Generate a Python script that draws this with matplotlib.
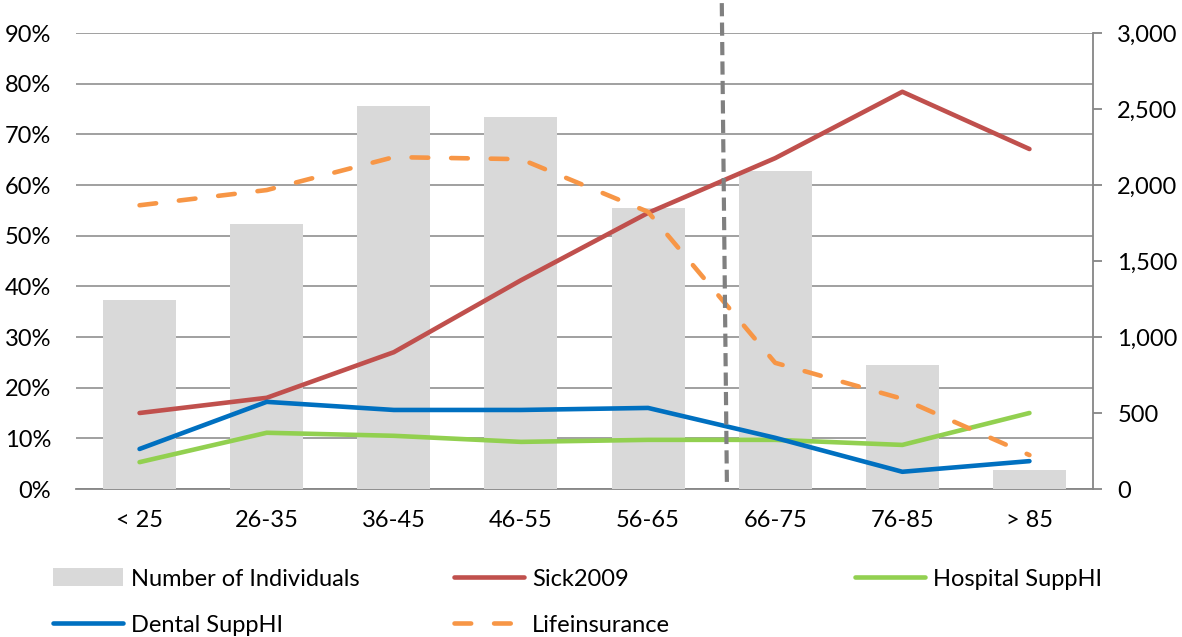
import matplotlib
matplotlib.use("Agg")
import matplotlib.pyplot as plt
from matplotlib.ticker import MultipleLocator, FuncFormatter, PercentFormatter
import numpy as np

plt.rcParams['font.family'] = ['Lato', 'DejaVu Sans']
plt.rcParams['lines.scale_dashes'] = False

categories = ["< 25", "26-35", "36-45", "46-55", "56-65", "66-75", "76-85", "> 85"]
individuals = [1245, 1745, 2520, 2450, 1850, 2090, 815, 125]
sick2009 = [0.150, 0.180, 0.270, 0.412, 0.545, 0.653, 0.784, 0.671]
dental = [0.079, 0.172, 0.156, 0.156, 0.160, 0.101, 0.034, 0.055]
hospital = [0.053, 0.111, 0.105, 0.093, 0.097, 0.097, 0.087, 0.150]
lifeins = [0.560, 0.590, 0.655, 0.651, 0.547, 0.249, 0.178, 0.067]
divider_x = [4.58, 4.62]
divider_y = [0.959, 0.014]

W, H = 1182, 637
FS = 17
fig = plt.figure(figsize=(W / 100, H / 100), dpi=100)
rect = [76 / W, 1 - 489 / H, (1093 - 76) / W, (489 - 33) / H]

grid_c = "#868686"
x = np.arange(len(categories))

ax = fig.add_axes(rect)
ax.set_xlim(-0.5, len(categories) - 0.5)
ax.set_ylim(0, 0.9)
ax.yaxis.set_major_locator(MultipleLocator(0.1))
ax.yaxis.set_major_formatter(PercentFormatter(1.0, decimals=0))
ax.grid(axis='y', color=grid_c, linewidth=1.1)
ax.set_axisbelow(True)
for s in ['top', 'left', 'right']:
    ax.spines[s].set_visible(False)
ax.spines['bottom'].set_color(grid_c)
ax.spines['bottom'].set_linewidth(1.3)
ax.set_xticks(x)
ax.set_xticklabels(categories)
ax.tick_params(axis='x', length=0, pad=15, labelsize=FS)
ax.tick_params(axis='y', length=0, pad=18, labelsize=FS)

axb = ax.twinx()
axb.set_ylim(0, 3000)
axb.yaxis.set_major_locator(MultipleLocator(500))
axb.yaxis.set_major_formatter(FuncFormatter(lambda v, p: f"{int(v):,}"))
for s in ['top', 'left', 'bottom']:
    axb.spines[s].set_visible(False)
axb.spines['right'].set_color(grid_c)
axb.spines['right'].set_linewidth(1.3)
axb.tick_params(axis='y', length=6.5, width=1.3, color=grid_c, pad=11, labelsize=FS)
bars = axb.bar(x, individuals, width=0.575, color="#D9D9D9", label="Number of Individuals")

axl = fig.add_axes(rect, sharex=ax, sharey=ax)
axl.axis('off')
axl.patch.set_visible(False)
lw = 3.3
l_sick, = axl.plot(x, sick2009, color="#C0504D", lw=lw, solid_capstyle='round', label="Sick2009")
l_hosp, = axl.plot(x, hospital, color="#92D050", lw=lw, solid_capstyle='round', label="Hospital SuppHI")
l_dent, = axl.plot(x, dental, color="#0070C0", lw=lw, solid_capstyle='round', label="Dental SuppHI")
l_life, = axl.plot(x, lifeins, color="#F79646", lw=lw, dashes=(12, 16.5), dash_capstyle='round',
                   label="Lifeinsurance")
axl.plot(divider_x, divider_y, color="#808080", lw=3.0, dashes=(9.5, 4.5), clip_on=False)

# legend: individual entries placed in a 3-column, 2-row grid
entries = [(bars, "Number of Individuals", 53, 579),
           (l_sick, "Sick2009", 454, 579),
           (l_hosp, "Hospital SuppHI", 855, 579),
           (l_dent, "Dental SuppHI", 53, 625),
           (l_life, "Lifeinsurance", 454, 625)]
for h, lab, px, py in entries:
    fig.legend([h], [lab], loc='center left', bbox_to_anchor=(px / W, 1 - py / H),
               frameon=False, fontsize=FS, handlelength=2.96, handletextpad=0.34,
               borderpad=0, borderaxespad=0, handleheight=0.8)

fig.savefig("out.png", dpi=100)
